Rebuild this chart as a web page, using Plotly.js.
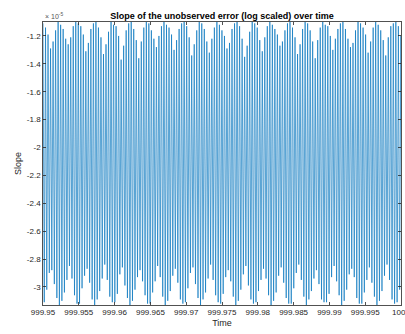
<!DOCTYPE html>
<html>
<head>
<meta charset="utf-8">
<script src="https://cdn.plot.ly/plotly-3.0.1.min.js"></script>
<style>
  html, body { margin: 0; padding: 0; background: #fff; }
  #chart { width: 405px; height: 334px; }
</style>
</head>
<body>
<div id="chart"></div>
<script>
// Slope samples, in units of 1e-5. Each oscillation cycle has one crest and one trough.
const crestSlope = [
  -1.11,-1.14,-1.19,-1.29,-1.24,-1.16,-1.10,
  -1.12,-1.15,-1.22,-1.26,-1.21,-1.13,-1.10,
  -1.11,-1.13,-1.19,-1.31,-1.25,-1.15,-1.11,
  -1.10,-1.14,-1.21,-1.33,-1.26,-1.17,-1.10,
  -1.12,-1.13,-1.20,-1.37,-1.27,-1.16,-1.11,
  -1.10,-1.15,-1.23,-1.36,-1.24,-1.14,-1.10,
  -1.11,-1.16,-1.22,-1.28,-1.20,-1.13,-1.10,
  -1.12,-1.14,-1.19,-1.30,-1.23,-1.15,-1.11,
  -1.10,-1.13,-1.21,-1.34,-1.26,-1.16,-1.10,
  -1.11,-1.15,-1.24,-1.32,-1.22,-1.14,-1.10,
  -1.12,-1.16,-1.20,-1.29,-1.25,-1.15,-1.11,
  -1.10,-1.13,-1.22,-1.35,-1.27,-1.17,-1.10,
  -1.11,-1.14,-1.23,-1.31,-1.21,-1.13,-1.10,
  -1.12,-1.15,-1.19,-1.27,-1.24,-1.16,-1.11,
  -1.10,-1.14,-1.21,-1.33,-1.26,-1.15,-1.10,
  -1.11,-1.16,-1.24,-1.36,-1.23,-1.14,-1.10,
  -1.12,-1.13,-1.20,-1.30,-1.22,-1.15,-1.11,
  -1.10,-1.15,-1.22,-1.28,-1.25,-1.16,-1.10,
  -1.11,-1.14,-1.19,-1.32,-1.24,-1.14,-1.10,
  -1.12,-1.16,-1.23,-1.34,-1.21,-1.13,-1.11,
  -1.10,-1.13,-1.20
];
const troughSlope = [
  -3.11,-3.02,-2.90,-2.88,-2.98,-3.08,-3.13,
  -3.10,-3.04,-2.95,-2.85,-2.94,-3.06,-3.12,
  -3.12,-3.01,-2.92,-2.87,-2.97,-3.09,-3.13,
  -3.09,-3.03,-2.94,-2.84,-2.95,-3.07,-3.11,
  -3.11,-3.05,-2.91,-2.86,-2.99,-3.08,-3.13,
  -3.10,-3.02,-2.93,-2.88,-2.96,-3.06,-3.12,
  -3.12,-3.04,-2.96,-2.85,-2.93,-3.07,-3.13,
  -3.10,-3.03,-2.92,-2.87,-2.97,-3.09,-3.12,
  -3.11,-3.01,-2.90,-2.86,-2.98,-3.08,-3.13,
  -3.09,-3.04,-2.94,-2.84,-2.95,-3.06,-3.11,
  -3.12,-3.05,-2.93,-2.88,-2.96,-3.07,-3.13,
  -3.10,-3.02,-2.91,-2.85,-2.99,-3.09,-3.12,
  -3.11,-3.03,-2.95,-2.87,-2.94,-3.06,-3.13,
  -3.10,-3.04,-2.92,-2.86,-2.97,-3.08,-3.12,
  -3.12,-3.01,-2.90,-2.84,-2.95,-3.07,-3.13,
  -3.09,-3.03,-2.94,-2.88,-2.98,-3.09,-3.11,
  -3.11,-3.05,-2.93,-2.85,-2.96,-3.06,-3.13,
  -3.10,-3.02,-2.91,-2.87,-2.93,-3.08,-3.12,
  -3.12,-3.04,-2.95,-2.86,-2.97,-3.07,-3.13,
  -3.10,-3.03,-2.92,-2.84,-2.95,-3.09,-3.12,
  -3.11,-3.02,-2.91
];

// Sampling of the time axis
const timeStart = 999.95;
const sampleStep = 0.000176;

const xTickVals = [999.95, 999.955, 999.96, 999.965, 999.97, 999.975, 999.98, 999.985, 999.99, 999.995, 1000];
const xTickText = ['999.95','999.955','999.96','999.965','999.97','999.975','999.98','999.985','999.99','999.995','1000'];
const yTickVals = [-3, -2.8, -2.6, -2.4, -2.2, -2, -1.8, -1.6, -1.4, -1.2];
const yTickText = ['-3','-2.8','-2.6','-2.4','-2.2','-2','-1.8','-1.6','-1.4','-1.2'];

// Interleave crests and troughs into one sampled series
const time = [];
const slope = [];
for (let i = 0; i < crestSlope.length; i++) {
  time.push(timeStart + (2 * i) * sampleStep);
  slope.push(crestSlope[i]);
  time.push(timeStart + (2 * i + 1) * sampleStep);
  slope.push(troughSlope[i]);
}

const axisColor = '#262626';
const fontFamily = 'Liberation Sans, Arial, sans-serif';
const font = { family: fontFamily, size: 8, color: axisColor };

const trace = {
  x: time,
  y: slope,
  type: 'scatter',
  mode: 'lines',
  line: { color: '#0072BD', width: 0.65 },
  hoverinfo: 'skip'
};

const layout = {
  width: 405,
  height: 334,
  margin: { l: 43, r: 4, t: 22, b: 29, pad: 0 },
  paper_bgcolor: '#ffffff',
  plot_bgcolor: '#ffffff',
  showlegend: false,
  font: font,
  title: {
    text: '<b>Slope of the unobserved error (log scaled) over time</b>',
    font: { family: fontFamily, size: 9, color: '#000' },
    x: 0.5, xref: 'paper', xanchor: 'center',
    y: 1, yref: 'paper', yanchor: 'bottom', pad: { b: 3 }
  },
  xaxis: {
    range: [999.95, 1000],
    tickvals: xTickVals,
    ticktext: xTickText,
    ticks: 'inside',
    ticklen: 3,
    tickcolor: axisColor,
    tickwidth: 0.8,
    showline: true,
    linecolor: axisColor,
    linewidth: 0.8,
    mirror: 'ticks',
    showgrid: false,
    zeroline: false,
    tickfont: font,
    ticklabeloverflow: 'allow',
    title: { text: 'Time', font: { family: fontFamily, size: 9, color: axisColor }, standoff: 3 },
    automargin: false
  },
  yaxis: {
    range: [-3.13, -1.1],
    tickvals: yTickVals,
    ticktext: yTickText,
    ticks: 'inside',
    ticklen: 3,
    tickcolor: axisColor,
    tickwidth: 0.8,
    showline: true,
    linecolor: axisColor,
    linewidth: 0.8,
    mirror: 'ticks',
    showgrid: false,
    zeroline: false,
    tickfont: font,
    title: { text: 'Slope', font: { family: fontFamily, size: 9, color: axisColor }, standoff: 3 },
    automargin: false
  },
  annotations: [{
    text: '\u00d7 10<sup>-5</sup>',
    xref: 'paper', yref: 'paper',
    x: 0, y: 1, xanchor: 'left', yanchor: 'bottom',
    showarrow: false,
    font: { family: fontFamily, size: 7, color: '#555' }
  }]
};

Plotly.newPlot('chart', [trace], layout, { displayModeBar: false, staticPlot: true });
</script>
</body>
</html>
